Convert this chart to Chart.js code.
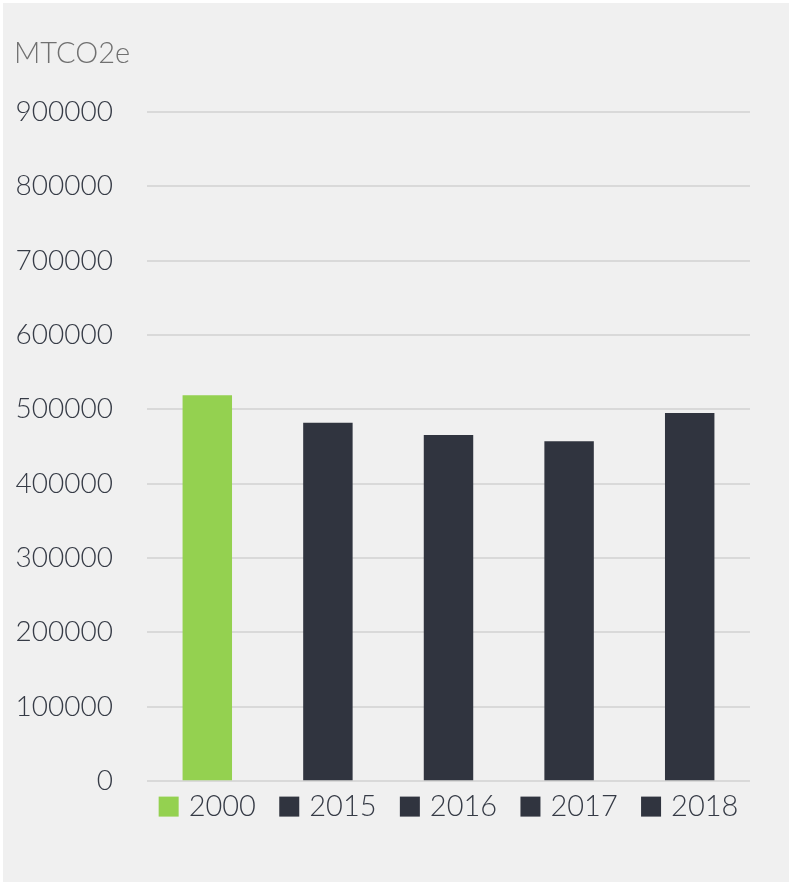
<!DOCTYPE html>
<html>
<head>
<meta charset="utf-8">
<script src="https://cdn.jsdelivr.net/npm/chart.js@4"></script>
<style>
    body { margin: 0; background: #ffffff; }
    #panel {
        position: absolute; left: 3px; top: 3px;
        width: 786px; height: 879px; background: #f0f0f0;
    }
</style>
</head>
<body>
<div id="panel"><canvas id="emissionsChart" width="786" height="879"></canvas></div>
<script>
// Chart data
const years = ['2000', '2015', '2016', '2017', '2018'];
const emissions = [519000, 482000, 465500, 457000, 495000];
const barColors = ['#94d150', '#30343f', '#30343f', '#30343f', '#30343f'];
const yTicks = [0, 100000, 200000, 300000, 400000, 500000, 600000, 700000, 800000, 900000];

const textFont = 'Lato';
const labelColor = '#363b46';
const keySize = 20;
const keyGap = 10;

// Draws the coloured key square left of each year label
const keyBoxes = {
    id: 'keyBoxes',
    afterDraw: function (chart) {
        const xs = chart.scales.x;
        const c = chart.ctx;
        const font = Chart.helpers.toFont(xs.options.ticks.font);
        c.save();
        c.font = font.string;
        const yMid = xs.top + xs.options.ticks.padding + font.lineHeight / 2;
        years.forEach(function (y, i) {
            const cx = xs.getPixelForTick(i) + xs.options.ticks.labelOffset;
            const tw = c.measureText(y).width;
            c.fillStyle = barColors[i];
            c.fillRect(cx - tw / 2 - keyGap - keySize, yMid - keySize / 2, keySize, keySize);
        });
        c.restore();
    }
};

// Build chart
const ctx = document.getElementById('emissionsChart').getContext('2d');
new Chart(ctx, {
    type: 'bar',
    data: {
        labels: years,
        datasets: [{
            data: emissions,
            backgroundColor: barColors,
            barPercentage: 0.41,
            categoryPercentage: 1
        }]
    },
    plugins: [keyBoxes],
    options: {
        responsive: false,
        animation: false,
        layout: {
            padding: { left: 11, right: 39, top: 33, bottom: 50 }
        },
        plugins: {
            title: {
                display: true,
                text: 'MTCO2e',
                align: 'start',
                color: '#707070',
                font: { family: textFont, size: 29, weight: 300 },
                padding: { top: 0, bottom: 41 }
            },
            legend: { display: false },
            tooltip: { enabled: false }
        },
        scales: {
            x: {
                grid: { display: false, drawTicks: false },
                border: { display: false },
                ticks: {
                    color: labelColor,
                    padding: 8,
                    labelOffset: 15,
                    maxRotation: 0,
                    font: { family: textFont, size: 29, weight: 300 }
                }
            },
            y: {
                min: 0,
                max: 900000,
                afterBuildTicks: function (axis) {
                    axis.ticks = yTicks.map(function (v) { return { value: v }; });
                },
                afterFit: function (axis) {
                    axis.width = 133;
                },
                grid: { color: '#d9d9d9', lineWidth: 2, drawTicks: false },
                border: { display: false },
                ticks: {
                    color: labelColor,
                    padding: 34,
                    font: { family: textFont, size: 28, weight: 300 },
                    callback: function (value) { return String(value); }
                }
            }
        }
    }
});
</script>
</body>
</html>
